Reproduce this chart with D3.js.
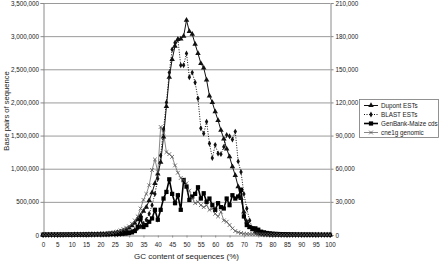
<!DOCTYPE html>
<html>
<head>
<meta charset="utf-8">
<script src="https://cdn.jsdelivr.net/npm/d3@7"></script>
<style>
  body { margin: 0; background: #fff; }
  text { font-family: "Liberation Sans", Arial, sans-serif; fill: #222; }
</style>
</head>
<body>
<div id="chart"></div>
<script>
// GC content (%) 0..100
var gcValues = d3.range(0, 101);

// left axis (base pairs)
var dupontESTs = [
  0, 0, 500, 0, 800, 1000, 1500, 1200, 2000, 2500,
  3000, 3500, 4000, 5000, 5500, 6000, 7000, 8000, 9000, 10000,
  12000, 14000, 17000, 20000, 25000, 30000, 38000, 48000, 62000, 80000,
  105000, 140000, 180000, 230000, 290000, 360000, 420000, 520000, 640000, 780000,
  920000, 1100000, 1480000, 1940000, 2380000, 2650000, 2850000, 2950000, 2960000, 3000000,
  3240000, 3070000, 3030000, 2880000, 2740000, 2590000, 2520000, 2340000, 2100000, 2000000,
  1860000, 1730000, 1580000, 1450000, 1300000, 1180000, 1030000, 900000, 730000, 550000,
  350000, 200000, 120000, 80000, 50000, 30000, 20000, 12000, 8000, 5000,
  3000, 2500, 2000, 2000, 1500, 1500, 1000, 1000, 1000, 800,
  800, 600, 600, 500, 500, 400, 400, 300, 300, 200, 200
];
var blastESTs = [
  0, 300, 0, 500, 600, 800, 900, 1000, 1200, 1500,
  1800, 2000, 2200, 2500, 2800, 3000, 3500, 4000, 4500, 5000,
  5500, 6000, 7000, 8000, 9000, 10000, 12000, 16000, 22000, 30000,
  40000, 55000, 75000, 100000, 130000, 170000, 230000, 320000, 450000, 620000,
  850000, 1200000, 1600000, 2000000, 2450000, 2800000, 2900000, 2950000, 2560000, 2560000,
  2740000, 2380000, 2450000, 2300000, 2060000, 1610000, 1530000, 1710000, 1380000, 1160000,
  1360000, 1230000, 1220000, 1330000, 1510000, 1490000, 1440000, 1560000, 1110000, 950000,
  620000, 400000, 220000, 100000, 50000, 30000, 15000, 8000, 5000, 3000,
  2000, 1500, 1200, 1000, 800, 800, 600, 500, 500, 400,
  400, 300, 300, 300, 200, 200, 200, 100, 100, 100, 100
];

// right axis
var genbankMaize = [
  200, 300, 250, 300, 350, 300, 400, 350, 400, 450,
  400, 500, 450, 500, 550, 600, 550, 600, 700, 650,
  700, 800, 750, 900, 1000, 1100, 1000, 1200, 1300, 1500,
  1800, 2400, 3600, 7200, 15000, 7200, 9000, 12000, 15000, 22800,
  13800, 22800, 33000, 39000, 50400, 37200, 28800, 36000, 22800, 49800,
  43800, 31800, 34800, 37200, 43200, 33000, 37800, 30000, 33000, 27000,
  22800, 28800, 25200, 24000, 33000, 27000, 36000, 33000, 34800, 40800,
  16800, 9000, 7200, 6000, 6000, 4800, 3000, 2400, 1800, 1500,
  1200, 1000, 900, 800, 700, 600, 500, 450, 400, 350,
  300, 300, 250, 250, 200, 200, 150, 150, 100, 100, 100
];
var cne1gGenomic = [
  300, 300, 300, 300, 350, 350, 400, 400, 450, 450,
  500, 500, 550, 600, 650, 700, 750, 800, 850, 900,
  950, 1100, 1300, 1600, 1900, 2400, 3000, 4200, 5400, 6600,
  7800, 10200, 13200, 16800, 24000, 31800, 37200, 45000, 58800, 68400,
  57000, 97800, 92400, 75000, 73200, 70800, 63000, 56400, 51600, 49800,
  46800, 40000, 33000, 28800, 30000, 27000, 25200, 27000, 22800, 24000,
  19200, 16800, 21000, 13200, 12000, 9000, 6000, 3600, 2400, 1800,
  1200, 1000, 900, 800, 700, 600, 500, 500, 400, 400,
  300, 300, 300, 250, 250, 200, 200, 200, 150, 150,
  150, 100, 100, 100, 100, 100, 50, 50, 50, 50, 50
];

var leftTicks = d3.range(0, 3500001, 500000);
var rightTicks = d3.range(0, 210001, 30000);
var xTicks = d3.range(0, 101, 5);

var seriesNames = ["Dupont ESTs", "BLAST ESTs", "GenBank-Maize cds", "cne1g genomic"];

var w = 440, h = 262;
var margin = { top: 3, right: 110, bottom: 27, left: 43 };

var svg = d3
  .select("#chart")
  .append("svg")
  .attr("width", w)
  .attr("height", h);

var x = d3.scaleLinear().domain([0, 100]).range([margin.left, w - margin.right]);
var yL = d3.scaleLinear().domain([0, 3500000]).range([h - margin.bottom, margin.top]);
var yR = d3.scaleLinear().domain([0, 210000]).range([h - margin.bottom, margin.top]);

// gridlines
svg
  .append("g")
  .selectAll("line")
  .data(leftTicks.slice(1))
  .enter()
  .append("line")
  .attr("x1", x(0))
  .attr("x2", x(100))
  .attr("y1", function (d) { return yL(d) + 0.5; })
  .attr("y2", function (d) { return yL(d) + 0.5; })
  .attr("stroke", "#9a9a9a")
  .attr("stroke-width", 1);

// axes
var fmt = d3.format(",");
var gLeft = svg
  .append("g")
  .attr("transform", "translate(" + (x(0) + 0.5) + ",0)")
  .call(d3.axisLeft(yL).tickValues(leftTicks).tickFormat(fmt).tickSize(3).tickPadding(1.5));
var gRight = svg
  .append("g")
  .attr("transform", "translate(" + (x(100) + 0.5) + ",0)")
  .call(d3.axisRight(yR).tickValues(rightTicks).tickFormat(fmt).tickSize(3).tickPadding(2));
var gBottom = svg
  .append("g")
  .attr("transform", "translate(0," + (yL(0) + 0.5) + ")")
  .call(d3.axisBottom(x).tickValues(xTicks).tickSize(2).tickPadding(5));

[gLeft, gRight, gBottom].forEach(function (g) {
  g.select(".domain").attr("stroke", "#8a8a8a");
  g.selectAll(".tick line").attr("stroke", "#8a8a8a");
  g.selectAll("text")
    .style("font-family", "'Liberation Sans', Arial, sans-serif")
    .style("font-size", "6.3px")
    .attr("fill", "#333");
});

// axis titles
svg
  .append("text")
  .attr("transform", "translate(9,111) rotate(-90)")
  .attr("text-anchor", "middle")
  .style("font-size", "7.6px")
  .text("Base pairs of sequence");
svg
  .append("text")
  .attr("x", (x(0) + x(100)) / 2)
  .attr("y", 259)
  .attr("text-anchor", "middle")
  .style("font-size", "8px")
  .text("GC content of sequences (%)");

// series
var series = [
  { name: seriesNames[0], data: dupontESTs, y: yL, dash: null, width: 1, color: "#111", symbol: d3.symbolTriangle, size: 13, stroke: false },
  { name: seriesNames[1], data: blastESTs, y: yL, dash: "1,1.5", width: 1, color: "#111", symbol: d3.symbolDiamond, size: 10, stroke: false },
  { name: seriesNames[2], data: genbankMaize, y: yR, dash: null, width: 1.6, color: "#000", symbol: d3.symbolSquare, size: 18, stroke: false },
  { name: seriesNames[3], data: cne1gGenomic, y: yR, dash: null, width: 0.7, color: "#555", symbol: d3.symbolTimes, size: 11, stroke: true }
];

series.forEach(function (s) {
  var line = d3
    .line()
    .x(function (d, i) { return x(gcValues[i]); })
    .y(function (d) { return s.y(d); });
  svg
    .append("path")
    .datum(s.data)
    .attr("fill", "none")
    .attr("stroke", s.color)
    .attr("stroke-width", s.width)
    .attr("stroke-dasharray", s.dash)
    .attr("d", line);
});

series.forEach(function (s) {
  svg
    .append("g")
    .selectAll("path")
    .data(s.data)
    .enter()
    .append("path")
    .attr("transform", function (d, i) {
      return "translate(" + x(gcValues[i]) + "," + s.y(d) + ")";
    })
    .attr("d", d3.symbol().type(s.symbol).size(s.size))
    .attr("fill", s.stroke ? "none" : s.color)
    .attr("stroke", s.stroke ? s.color : "none")
    .attr("stroke-width", 0.8);
});

// legend
var lg = svg.append("g").attr("transform", "translate(359,99)");
lg.append("rect")
  .attr("x", 0.5)
  .attr("y", 0.5)
  .attr("width", 79)
  .attr("height", 38)
  .attr("fill", "#fff")
  .attr("stroke", "#777")
  .attr("stroke-width", 0.8);

series.forEach(function (s, i) {
  var yy = 6.5 + i * 9;
  lg.append("line")
    .attr("x1", 5)
    .attr("x2", 19)
    .attr("y1", yy)
    .attr("y2", yy)
    .attr("stroke", s.color)
    .attr("stroke-width", s.width)
    .attr("stroke-dasharray", s.dash);
  lg.append("path")
    .attr("transform", "translate(12," + yy + ")")
    .attr("d", d3.symbol().type(s.symbol).size(s.size))
    .attr("fill", s.stroke ? "none" : s.color)
    .attr("stroke", s.stroke ? s.color : "none")
    .attr("stroke-width", 0.8);
  lg.append("text")
    .attr("x", 22)
    .attr("y", yy + 2.2)
    .style("font-size", "6.3px")
    .text(s.name);
});
</script>
</body>
</html>
